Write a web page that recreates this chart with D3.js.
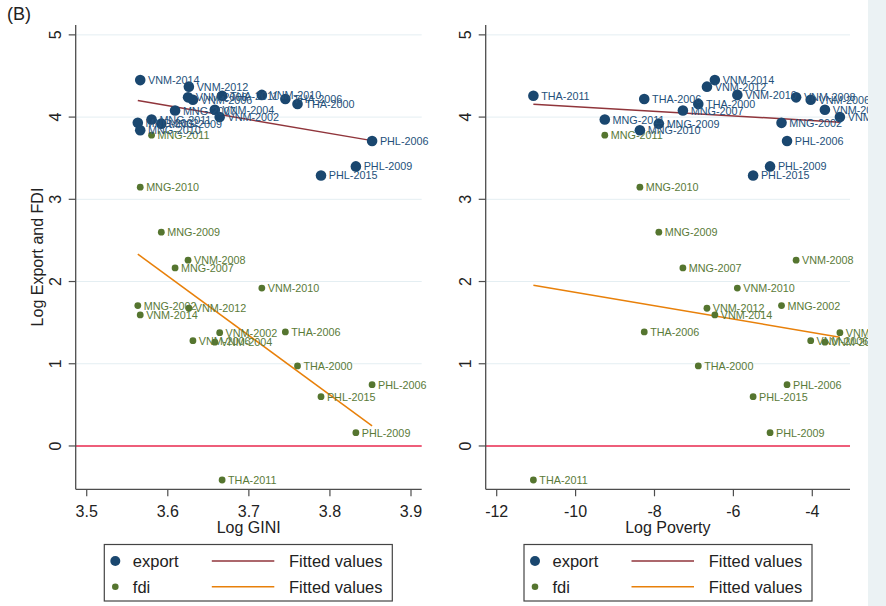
<!DOCTYPE html>
<html>
<head>
<meta charset="utf-8">
<script src="https://cdn.jsdelivr.net/npm/d3@7"></script>
<style>
body { margin: 0; background: #fff; }
text { font-family: "Liberation Sans", Arial, sans-serif; }
</style>
</head>
<body>
<div id="chart"></div>
<script>
// country-year observations
var ids = ["VNM-2002", "VNM-2004", "VNM-2006", "VNM-2008", "VNM-2010", "VNM-2012", "VNM-2014",
           "THA-2000", "THA-2006", "THA-2011",
           "MNG-2002", "MNG-2007", "MNG-2009", "MNG-2010", "MNG-2011",
           "PHL-2006", "PHL-2009", "PHL-2015"];
var gini = [3.664, 3.658, 3.631, 3.625, 3.716, 3.626, 3.566,
            3.760, 3.745, 3.667,
            3.563, 3.609, 3.592, 3.566, 3.580,
            3.852, 3.832, 3.789];
var poverty = [-3.30, -3.68, -4.04, -4.41, -5.90, -6.67, -6.47,
               -6.89, -8.26, -11.07,
               -4.78, -7.28, -7.89, -8.37, -9.26,
               -4.64, -5.07, -5.50];
var exportVals = [4.00, 4.09, 4.21, 4.24, 4.27, 4.37, 4.45,
                  4.16, 4.22, 4.26,
                  3.93, 4.08, 3.92, 3.84, 3.97,
                  3.71, 3.40, 3.29];
var fdiVals = [1.378, 1.262, 1.281, 2.26, 1.92, 1.675, 1.594,
               0.973, 1.387, -0.414,
               1.707, 2.165, 2.60, 3.147, 3.78,
               0.746, 0.162, 0.60];

var yTicks = [0, 1, 2, 3, 4, 5];
var giniTicks = [3.5, 3.6, 3.7, 3.8, 3.9];
var povertyTicks = [-12, -10, -8, -6, -4];
var seriesNames = ["export", "fdi"];
var fitName = "Fitted values";

var width = 886, height = 606;
var navy = "#1a476f", green = "#55752f", maroon = "#90353b", orange = "#e8800a";
var axisCol = "#4d4d4d";

var svg = d3.select("#chart").append("svg")
    .attr("width", width)
    .attr("height", height);

svg.append("rect")
    .attr("width", width)
    .attr("height", height)
    .style("fill", "#fff");

var y = d3.scaleLinear()
    .domain([-0.527, 5.12])
    .range([489.3, 25]);

// ols line over the range of x
function fit(xs, ys) {
    var mx = d3.mean(xs), my = d3.mean(ys);
    var sxy = d3.sum(xs, function(d, i) { return (d - mx) * (ys[i] - my); });
    var sxx = d3.sum(xs, function(d) { return (d - mx) * (d - mx); });
    var b = sxy / sxx, a = my - b * mx;
    var ext = d3.extent(xs);
    return ext.map(function(v) { return [v, a + b * v]; });
}

function panel(o) {
    var x = d3.scaleLinear().domain(o.domain).range([o.left, o.right]);
    var g = svg.append("g");

    // grid
    g.selectAll(".grid")
        .data(yTicks.filter(function(d) { return d != 0; }))
        .enter().append("line")
        .attr("x1", o.left).attr("x2", o.right)
        .attr("y1", function(d) { return y(d); })
        .attr("y2", function(d) { return y(d); })
        .style("stroke", "#e4eef2")
        .style("stroke-width", 1);

    g.append("line")
        .attr("x1", o.left).attr("x2", o.right)
        .attr("y1", y(0)).attr("y2", y(0))
        .style("stroke", "#e8284e")
        .style("stroke-width", 1.6);

    // y axis
    g.append("line")
        .attr("x1", o.left).attr("x2", o.left)
        .attr("y1", y.range()[1]).attr("y2", y.range()[0])
        .style("stroke", axisCol).style("stroke-width", 1.3);
    g.selectAll(".ytick")
        .data(yTicks).enter().append("line")
        .attr("x1", o.left - 7).attr("x2", o.left)
        .attr("y1", function(d) { return y(d); })
        .attr("y2", function(d) { return y(d); })
        .style("stroke", axisCol).style("stroke-width", 1.2);
    g.selectAll(".ylab")
        .data(yTicks).enter().append("text")
        .attr("transform", function(d) { return "translate(" + (o.left - 15) + "," + y(d) + ") rotate(-90)"; })
        .attr("text-anchor", "middle")
        .style("font-size", "16px")
        .style("fill", "#222")
        .text(function(d) { return d; });

    // x axis
    g.append("line")
        .attr("x1", o.left).attr("x2", o.right)
        .attr("y1", y.range()[0]).attr("y2", y.range()[0])
        .style("stroke", axisCol).style("stroke-width", 1.3);
    g.selectAll(".xtick")
        .data(o.ticks).enter().append("line")
        .attr("x1", function(d) { return x(d); })
        .attr("x2", function(d) { return x(d); })
        .attr("y1", y.range()[0]).attr("y2", y.range()[0] + 7)
        .style("stroke", axisCol).style("stroke-width", 1.2);
    g.selectAll(".xlab")
        .data(o.ticks).enter().append("text")
        .attr("x", function(d) { return x(d); })
        .attr("y", 517)
        .attr("text-anchor", "middle")
        .style("font-size", "16px")
        .style("fill", "#222")
        .text(o.fmt);

    g.append("text")
        .attr("x", (o.left + o.right) / 2)
        .attr("y", 533)
        .attr("text-anchor", "middle")
        .style("font-size", "16px")
        .style("fill", "#222")
        .text(o.title);

    // fitted lines
    var line = d3.line()
        .x(function(d) { return x(d[0]); })
        .y(function(d) { return y(d[1]); });
    g.append("path")
        .attr("d", line(fit(o.xs, exportVals)))
        .style("fill", "none").style("stroke", maroon).style("stroke-width", 1.5);
    g.append("path")
        .attr("d", line(fit(o.xs, fdiVals)))
        .style("fill", "none").style("stroke", orange).style("stroke-width", 1.5);

    // points + labels
    var series = [
        {vals: fdiVals, col: green, txt: "#5a7a38", r: 3.4},
        {vals: exportVals, col: navy, txt: "#24507a", r: 5.3}
    ];
    series.forEach(function(s) {
        g.selectAll(null)
            .data(ids).enter().append("circle")
            .attr("cx", function(d, i) { return x(o.xs[i]); })
            .attr("cy", function(d, i) { return y(s.vals[i]); })
            .attr("r", s.r)
            .style("fill", s.col);
        g.selectAll(null)
            .data(ids).enter().append("text")
            .attr("x", function(d, i) { return x(o.xs[i]) + s.r + 2.5; })
            .attr("y", function(d, i) { return y(s.vals[i]) + 4; })
            .style("font-size", "10.8px")
            .style("fill", s.txt)
            .text(function(d) { return d; });
    });

    // legend
    var lg = svg.append("g").attr("transform", "translate(" + o.legendX + ",544.5)");
    lg.append("rect")
        .attr("width", 288).attr("height", 56.5)
        .style("fill", "#fff").style("stroke", "#444").style("stroke-width", 1.2);
    var rows = [{name: seriesNames[0], col: navy, r: 5, fitCol: maroon},
                {name: seriesNames[1], col: green, r: 3.3, fitCol: orange}];
    rows.forEach(function(rw, i) {
        var cy = 16.5 + i * 25.7;
        lg.append("circle").attr("cx", 11).attr("cy", cy).attr("r", rw.r).style("fill", rw.col);
        lg.append("text").attr("x", 28.5).attr("y", cy + 6)
            .style("font-size", "16.5px").style("fill", "#222").text(rw.name);
        lg.append("line").attr("x1", 107.5).attr("x2", 170).attr("y1", cy).attr("y2", cy)
            .style("stroke", rw.fitCol).style("stroke-width", 1.5);
        lg.append("text").attr("x", 184.7).attr("y", cy + 6)
            .style("font-size", "16.5px").style("fill", "#222").text(fitName);
    });
}

panel({xs: gini, left: 75.7, right: 421.7, domain: [3.4864, 3.9132], ticks: giniTicks,
       title: "Log GINI", legendX: 104.3, fmt: function(d) { return d.toFixed(1); }});
panel({xs: poverty, left: 485.7, right: 850, domain: [-12.279, -3.044], ticks: povertyTicks,
       title: "Log Poverty", legendX: 524, fmt: function(d) { return String(d); }});

svg.append("text")
    .attr("transform", "translate(43,257) rotate(-90)")
    .attr("text-anchor", "middle")
    .style("font-size", "16px")
    .style("fill", "#222")
    .text("Log Export and FDI");

svg.append("text")
    .attr("x", 7).attr("y", 20)
    .style("font-size", "18px")
    .style("fill", "#222")
    .text("(B)");

// strip on the right edge
svg.append("rect")
    .attr("x", 868).attr("y", 0)
    .attr("width", 18).attr("height", height)
    .style("fill", "#ebf2f4");
</script>
</body>
</html>
